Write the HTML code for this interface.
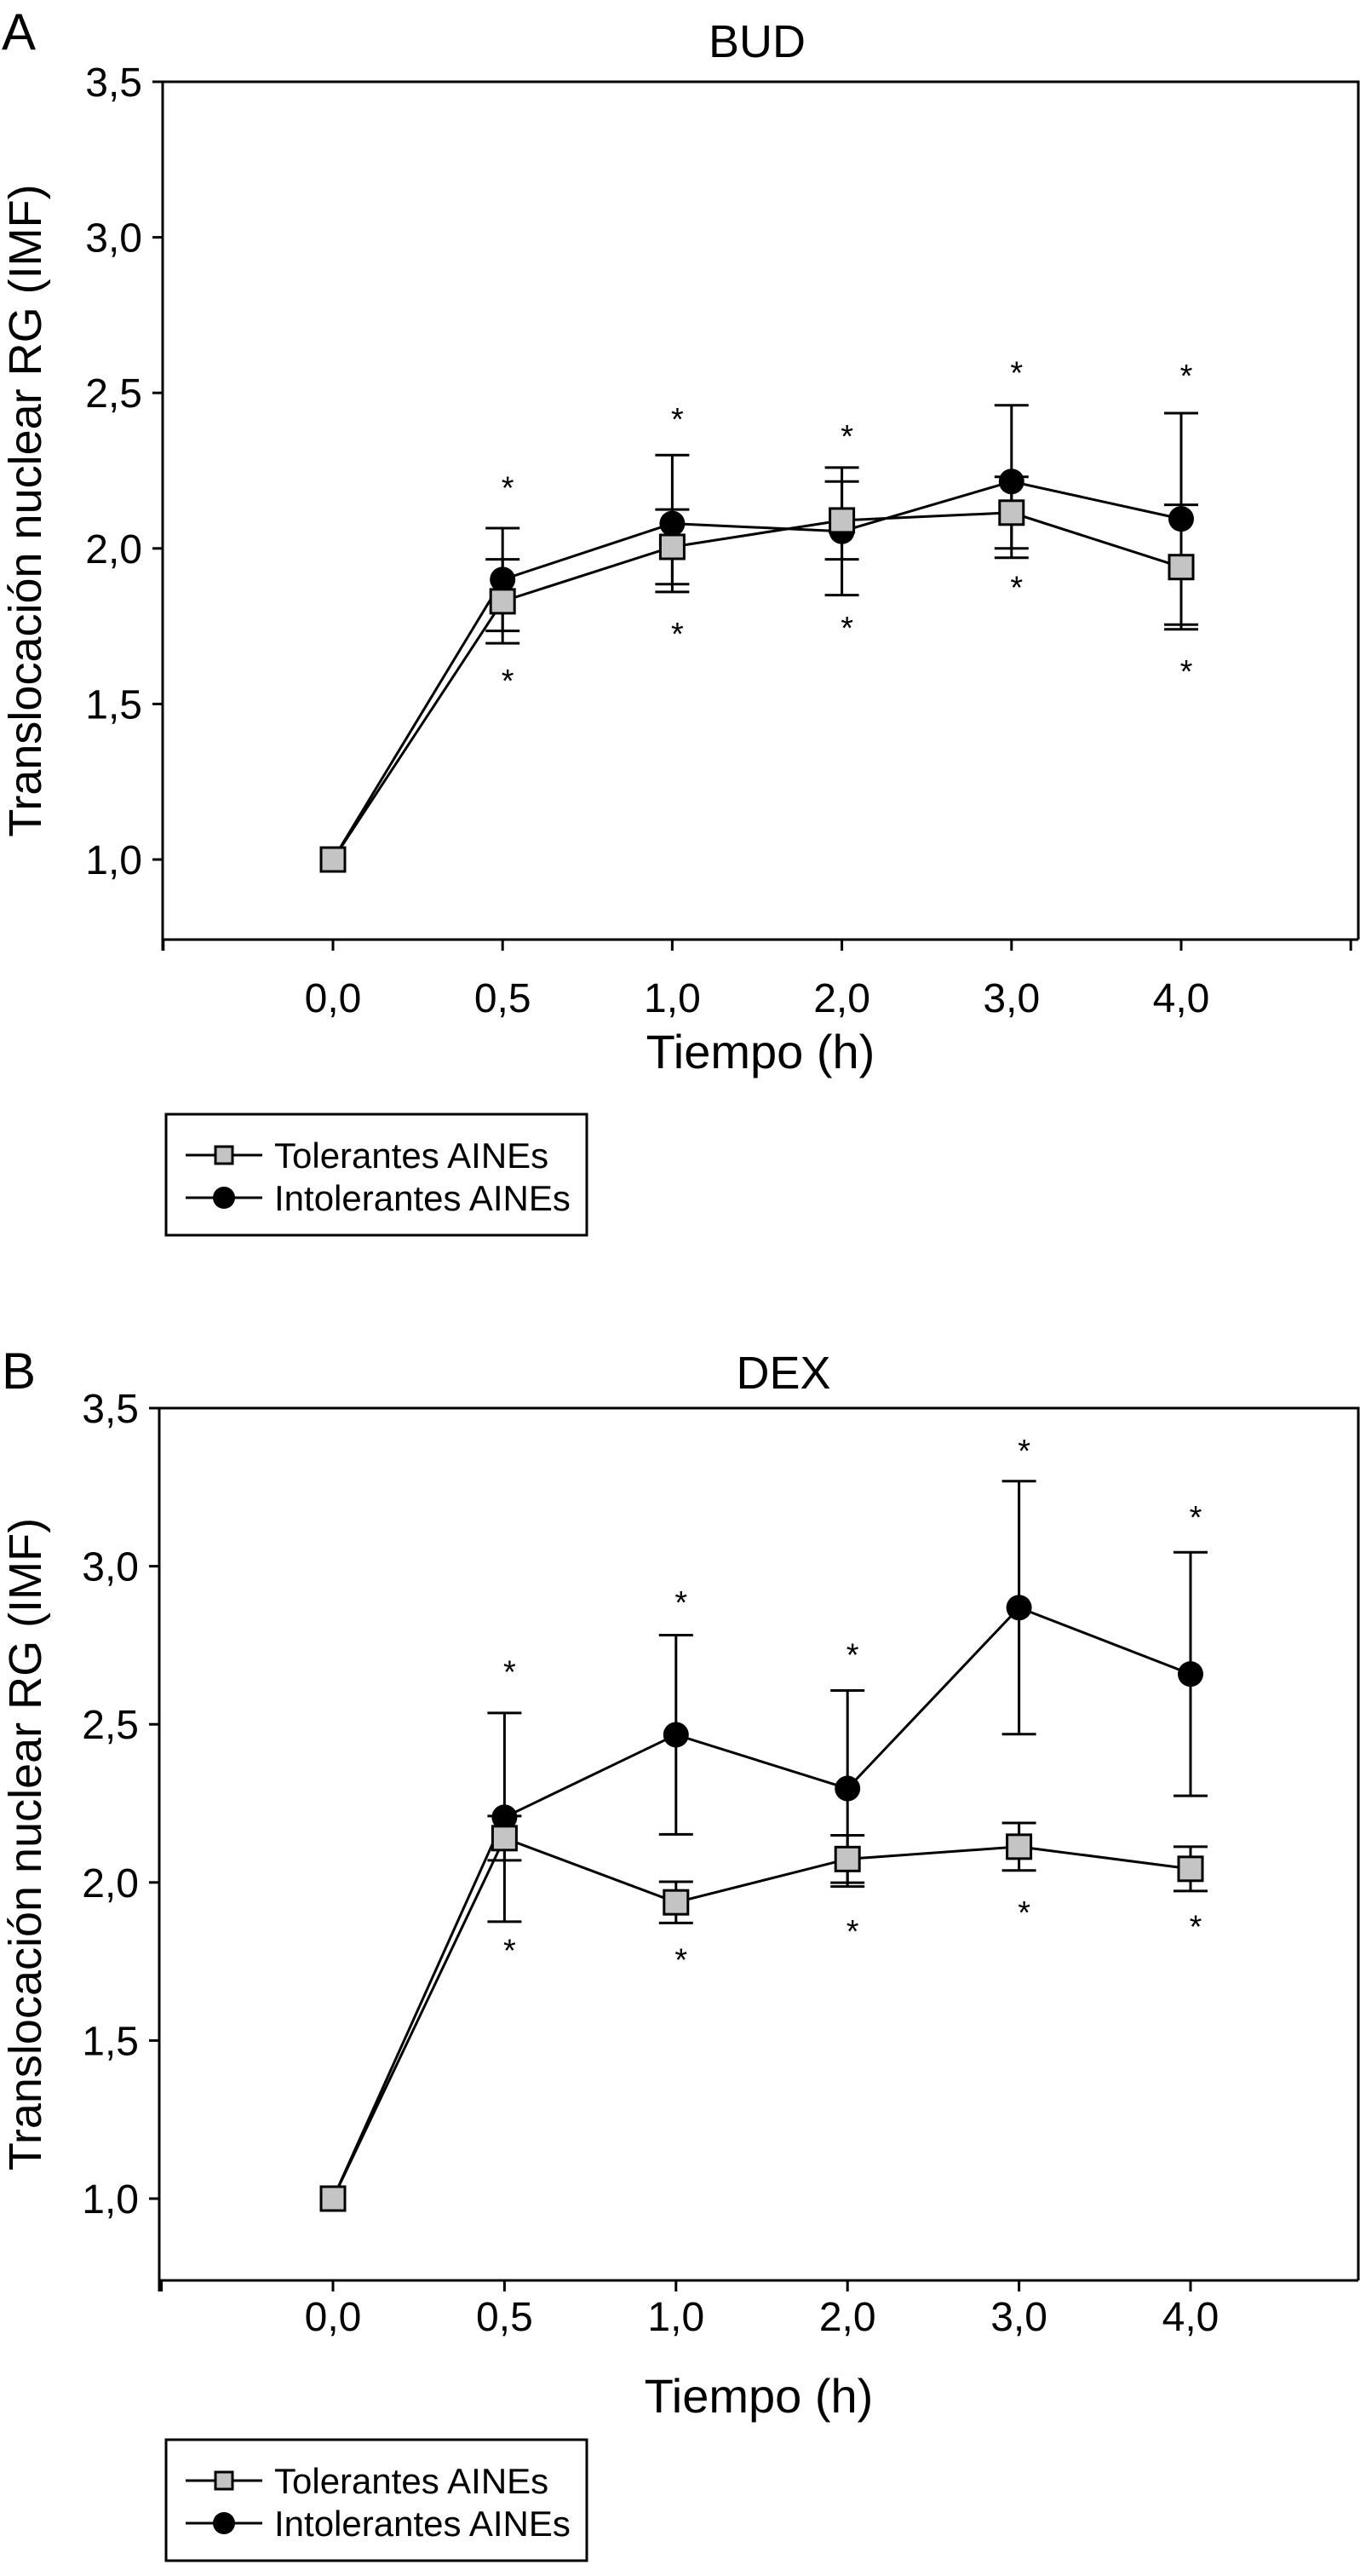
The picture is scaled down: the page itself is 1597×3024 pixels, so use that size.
<!DOCTYPE html>
<html><head><meta charset="utf-8"><style>
body{margin:0;background:#fff}
svg{display:block;font-family:"Liberation Sans",Arial,sans-serif}
</style></head><body>
<svg id="svg" width="1597" height="3024" viewBox="0 0 1597 3024" xmlns="http://www.w3.org/2000/svg"></svg>
<script>
const categories = ["0,0","0,5","1,0","2,0","3,0","4,0"];
const yTicks = [1.0,1.5,2.0,2.5,3.0,3.5];
const yTickLabels = ["1,0","1,5","2,0","2,5","3,0","3,5"];
// Panel A (BUD)
const budTol = [1.0,1.83,2.005,2.09,2.115,1.94];
const budTolErr = [0,0.135,0.12,0.125,0.115,0.2];
const budInt = [1.0,1.90,2.08,2.055,2.215,2.095];
const budIntErr = [0,0.165,0.22,0.205,0.245,0.34];
const budStarUp = [null,2.22,2.44,2.385,2.59,2.58];
const budStarDown = [null,1.60,1.75,1.77,1.90,1.63];
// Panel B (DEX)
const dexTol = [1.0,2.14,1.937,2.074,2.113,2.043];
const dexTolErr = [0,0.07,0.065,0.075,0.075,0.07];
const dexInt = [1.0,2.206,2.467,2.297,2.869,2.659];
const dexIntErr = [0,0.33,0.315,0.31,0.4,0.385];
const dexStarUp = [null,2.69,2.91,2.745,3.39,3.18];
const dexStarDown = [null,1.81,1.78,1.87,1.93,1.885];

const NS="http://www.w3.org/2000/svg";
const svg=document.getElementById('svg');
function mk(tag,attrs,parent,text){const e=document.createElementNS(NS,tag);for(const k in attrs)e.setAttribute(k,attrs[k]);if(text!==undefined)e.textContent=text;(parent||svg).appendChild(e);return e;}

function panel(p){
  const g=mk('g',{});
  
  
  const y=v=>p.y1-(v-1.0)*(p.y1-p.y35)/2.5;
  const x=i=>p.x0+p.dx*i;
  const yBottom=p.yBottom;
  const L=mk('text',{x:2,y:p.letterY,'font-size':60},g,p.letter);
  
  const T=mk('text',{x:p.titleX,y:p.titleY,'font-size':54,'text-anchor':'middle'},g,p.title);
  
  const fr=mk('path',{d:`M${p.left},${y(3.5)} H${p.right} V${yBottom} M${p.left},${y(3.5)} V${yBottom+13} M${p.left},${yBottom} H${p.right}`,stroke:'#000','stroke-width':3,fill:'none'},g);
  
  yTicks.forEach((v,i)=>{
    const t=mk('line',{x1:p.left-12,x2:p.left,y1:y(v),y2:y(v),stroke:'#000','stroke-width':3},g);
    
    const tl=mk('text',{x:p.left-24,y:y(v)+17,'font-size':48,'text-anchor':'end'},g,yTickLabels[i]);
    
  });
  for(let i=-1;i<=categories.length;i++){
    const t=mk('line',{x1:x(i),x2:x(i),y1:yBottom,y2:yBottom+13,stroke:'#000','stroke-width':3},g);
    
  }
  categories.forEach((c,i)=>{
    const tl=mk('text',{x:x(i),y:p.xLabY,'font-size':48,'text-anchor':'middle'},g,c);
    
  });
  const xt=mk('text',{x:(p.left+p.right)/2,y:p.xTitleY,'font-size':56,'text-anchor':'middle'},g,'Tiempo (h)');
  
  const cy=(y(3.5)+yBottom)/2;
  const yt=mk('text',{x:0,y:0,'font-size':54,'text-anchor':'middle',transform:`translate(48,${cy}) rotate(-90)`},g,'Translocación nuclear RG (IMF)');
  
  function errs(vals,err,name){
    vals.forEach((v,i)=>{
      if(!err[i])return;
      const e=mk('path',{d:`M${x(i)},${y(v+err[i])} V${y(v-err[i])} M${x(i)-20},${y(v+err[i])} H${x(i)+20} M${x(i)-20},${y(v-err[i])} H${x(i)+20}`,stroke:'#000','stroke-width':3,fill:'none'},g);
      
    });
  }
  errs(p.int,p.intErr,'intolerantes');
  errs(p.tol,p.tolErr,'tolerantes');
  const lt=mk('polyline',{points:p.tol.map((v,i)=>x(i)+','+y(v)).join(' '),stroke:'#000','stroke-width':3,fill:'none'},g);
  
  const li=mk('polyline',{points:p.int.map((v,i)=>x(i)+','+y(v)).join(' '),stroke:'#000','stroke-width':3,fill:'none'},g);
  
  p.int.forEach((v,i)=>{
    const c=mk('circle',{cx:x(i),cy:y(v),r:15,fill:'#000'},g);
    
  });
  p.tol.forEach((v,i)=>{
    const s=mk('rect',{x:x(i)-14,y:y(v)-14,width:28,height:28,fill:'#c4c4c4',stroke:'#000','stroke-width':3},g);
    
  });
  [p.starUp,p.starDown].forEach(arr=>arr.forEach((v,i)=>{
    if(v===null)return;
    const a=mk('text',{x:x(i)+6,y:y(v)+22,'font-size':38,'text-anchor':'middle'},g,'*');
    
  }));
  const lg=mk('g',{},g);
  
  mk('rect',{x:195,y:p.legY,width:494,height:142,fill:'#fff',stroke:'#000','stroke-width':3},lg);
  const e1=p.legY+48,e2=p.legY+98;
  mk('line',{x1:218,x2:308,y1:e1,y2:e1,stroke:'#000','stroke-width':3},lg);
  mk('rect',{x:253,y:e1-10,width:20,height:20,fill:'#c4c4c4',stroke:'#000','stroke-width':3},lg);
  const t1=mk('text',{x:322,y:e1+15,'font-size':42},lg,'Tolerantes AINEs');
  
  mk('line',{x1:218,x2:308,y1:e2,y2:e2,stroke:'#000','stroke-width':3},lg);
  mk('circle',{cx:263,cy:e2,r:13,fill:'#000'},lg);
  const t2=mk('text',{x:322,y:e2+15,'font-size':42},lg,'Intolerantes AINEs');
  
}

panel({id:'bud',letter:'A',letterY:58,title:'BUD',titleX:889,titleY:67,
  left:191,right:1595,x0:391,dx:199.2,y35:96,y1:1009,yBottom:1103,xLabY:1188,xTitleY:1254,legY:1308,
  tol:budTol,tolErr:budTolErr,int:budInt,intErr:budIntErr,starUp:budStarUp,starDown:budStarDown});
panel({id:'dex',letter:'B',letterY:1630,title:'DEX',titleX:920,titleY:1630,
  left:187,right:1595,x0:391,dx:201.4,y35:1653,y1:2581,yBottom:2677,xLabY:2736,xTitleY:2832,legY:2864,
  tol:dexTol,tolErr:dexTolErr,int:dexInt,intErr:dexIntErr,starUp:dexStarUp,starDown:dexStarDown});
</script>
</body></html>
